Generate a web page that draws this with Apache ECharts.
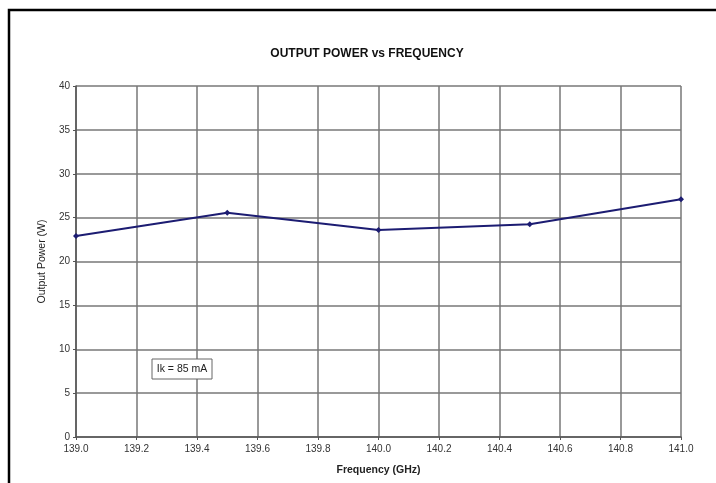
<!DOCTYPE html>
<html>
<head>
<meta charset="utf-8">
<script src="https://cdn.jsdelivr.net/npm/echarts@6/dist/echarts.min.js"></script>
<style>
  html, body { margin: 0; padding: 0; background: #fff; }
  #chart { width: 716px; height: 483px; }
</style>
</head>
<body>
<div id="chart"></div>
<script>
  // frequency (GHz) and output power (W)
  var freq = [139.0, 139.5, 140.0, 140.5, 141.0];
  var power = [22.9, 25.55, 23.6, 24.25, 27.1];
  var noteText = 'Ik = 85 mA';

  var data = [];
  for (var i = 0; i < freq.length; i++) {
    data.push([freq[i], power[i]]);
  }

  var myChart = echarts.init(document.getElementById('chart'));
  var font = 'Liberation Sans, Arial, sans-serif';

  var option = {
    backgroundColor: '#fff',
    animation: false,
    title: {
      text: 'OUTPUT POWER vs FREQUENCY',
      left: 362,
      top: 43,
      textAlign: 'center',
      textStyle: { fontFamily: font, fontSize: 12, fontWeight: 'bold', color: '#111' }
    },
    grid: { left: 76, top: 86, right: 35, bottom: 46 },
    xAxis: {
      type: 'value',
      min: 139.0,
      max: 141.0,
      interval: 0.2,
      name: 'Frequency (GHz)',
      nameLocation: 'middle',
      nameGap: 28,
      nameTextStyle: { fontFamily: font, fontSize: 10.5, fontWeight: 'bold', color: '#222' },
      axisLine: { lineStyle: { color: '#555', width: 1.5 } },
      axisTick: { show: true, length: 3, lineStyle: { color: '#555' } },
      axisLabel: {
        fontFamily: font, fontSize: 10, color: '#333', margin: 7,
        formatter: function (v) { return v.toFixed(1); }
      },
      splitLine: { show: true, lineStyle: { color: '#777', width: 1.5 } }
    },
    yAxis: {
      type: 'value',
      min: 0,
      max: 40,
      interval: 5,
      name: 'Output Power (W)',
      nameLocation: 'middle',
      nameGap: 23,
      nameTextStyle: { fontFamily: font, fontSize: 10.5, color: '#222' },
      axisLine: { show: true, lineStyle: { color: '#555', width: 1.5 } },
      axisTick: { show: true, length: 3, lineStyle: { color: '#555' } },
      axisLabel: { fontFamily: font, fontSize: 10, color: '#333', margin: 6 },
      splitLine: { show: true, lineStyle: { color: '#777', width: 1.5 } }
    },
    graphic: [
      {
        type: 'rect',
        shape: { x: 9, y: 10, width: 900, height: 700 },
        style: { fill: 'none', stroke: '#000', lineWidth: 2.5 },
        z: 100
      },
      {
        type: 'rect',
        shape: { x: 152, y: 359, width: 60, height: 20 },
        style: { fill: '#fff', stroke: '#666', lineWidth: 1 },
        z: 100
      },
      {
        type: 'text',
        x: 182,
        y: 369,
        z: 101,
        style: {
          text: noteText, fontFamily: font, fontSize: 10.5, fill: '#222',
          align: 'center', verticalAlign: 'middle'
        }
      }
    ],
    series: [
      {
        type: 'line',
        data: data,
        symbol: 'diamond',
        symbolSize: 6,
        itemStyle: { color: '#1c1c72' },
        lineStyle: { color: '#1c1c72', width: 2 }
      }
    ]
  };
  myChart.setOption(option);
</script>
</body>
</html>
